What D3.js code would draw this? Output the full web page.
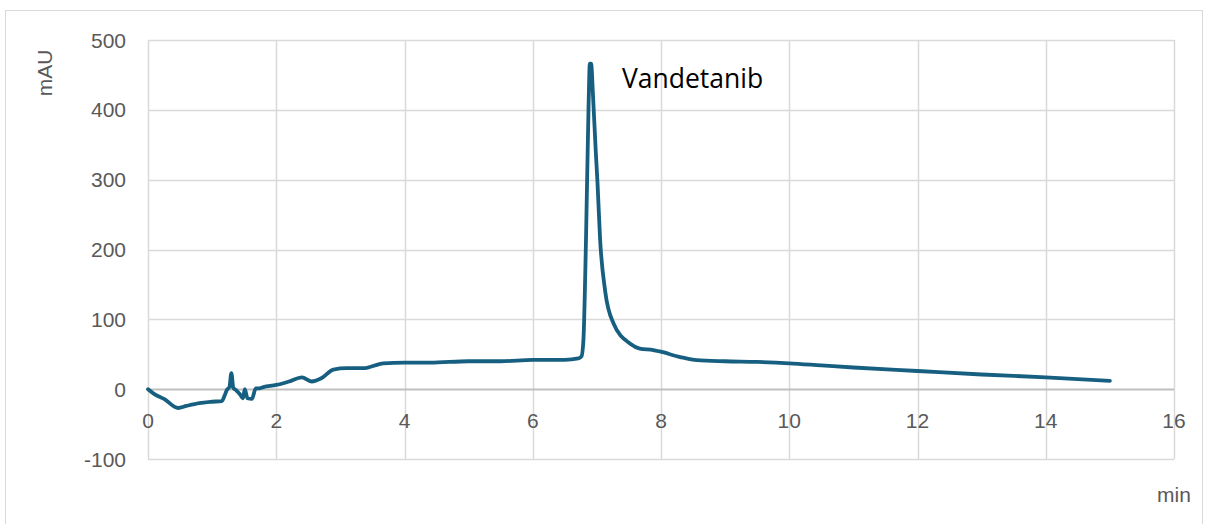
<!DOCTYPE html>
<html>
<head>
<meta charset="utf-8">
<script src="https://cdn.jsdelivr.net/npm/d3@7"></script>
<style>
  body { margin: 0; background: #fff; }
  svg { font-family: "Liberation Sans", Arial, sans-serif; }
</style>
</head>
<body>
<script>
// chromatogram readings (min, mAU)
var times = [0, 0.1, 0.25, 0.47, 0.6, 0.8, 1.0, 1.15, 1.2, 1.23, 1.27, 1.30, 1.33, 1.38, 1.44, 1.48, 1.51, 1.55, 1.62, 1.68, 1.72, 1.8, 2.0, 2.2, 2.4, 2.55, 2.71, 2.89, 3.1, 3.36, 3.67, 4.0, 4.4, 5.0, 5.5, 6.0, 6.5, 6.71, 6.76, 6.79, 6.83, 6.87, 6.89, 6.91, 6.94, 6.98, 7.01, 7.05, 7.13, 7.26, 7.52, 7.67, 7.88, 7.98, 8.3, 8.56, 9.0, 9.5, 10.0, 10.5, 11.0, 12.0, 13.0, 14.0, 15.0];
var signal = [0, -7, -14, -27, -24, -20, -18, -17, -8, -1, 3, 23, 2, -2, -8, -13, 0, -13, -14, 1, 1, 3, 6, 11, 17, 11, 16, 28, 30, 30, 37, 38, 38, 40, 40, 42, 42, 44, 47, 70, 213, 404, 466, 466, 420, 345, 295, 215, 140, 94, 65, 58, 56, 54, 46, 41.5, 40, 39, 37, 34, 31, 26, 21, 17, 12];
var xTicks = [0, 2, 4, 6, 8, 10, 12, 14, 16];
var yTicks = [-100, 0, 100, 200, 300, 400, 500];

var w = 1208, h = 524;
var svg = d3.select("body").append("svg")
    .attr("width", w)
    .attr("height", h);

// chart frame
svg.append("rect")
    .attr("x", 5.5).attr("y", 10.5)
    .attr("width", 1197).attr("height", 520)
    .attr("fill", "#fff")
    .attr("stroke", "#d9d9d9");

var x = d3.scaleLinear().domain([0, 16]).range([148, 1174]);
var y = d3.scaleLinear().domain([-100, 500]).range([459, 40]);

// gridlines
svg.selectAll(".vgrid").data(xTicks).enter().append("line")
    .attr("class", "vgrid")
    .attr("x1", d => Math.round(x(d)) + 0.5).attr("x2", d => Math.round(x(d)) + 0.5)
    .attr("y1", y(500)).attr("y2", y(-100))
    .attr("stroke", "#d9d9d9").attr("stroke-width", 1.5);

svg.selectAll(".hgrid").data(yTicks).enter().append("line")
    .attr("class", "hgrid")
    .attr("x1", x(0)).attr("x2", x(16))
    .attr("y1", d => Math.round(y(d)) + 0.5).attr("y2", d => Math.round(y(d)) + 0.5)
    .attr("stroke", d => d === 0 ? "#bfbfbf" : "#d9d9d9")
    .attr("stroke-width", d => d === 0 ? 2 : 1.5);

// tick labels
svg.selectAll(".ylab").data(yTicks).enter().append("text")
    .attr("class", "ylab")
    .attr("x", 126).attr("y", d => y(d))
    .attr("dy", "0.36em")
    .attr("text-anchor", "end")
    .attr("font-size", 21)
    .attr("fill", "#595959")
    .text(d => d);

svg.selectAll(".xlab").data(xTicks).enter().append("text")
    .attr("class", "xlab")
    .attr("x", d => x(d)).attr("y", 428)
    .attr("text-anchor", "middle")
    .attr("font-size", 21)
    .attr("fill", "#595959")
    .text(d => d);

// axis titles
svg.append("text")
    .attr("transform", "translate(52,73) rotate(-90)")
    .attr("text-anchor", "middle")
    .attr("font-size", 21)
    .attr("fill", "#595959")
    .text("mAU");

svg.append("text")
    .attr("x", 1174).attr("y", 502)
    .attr("text-anchor", "middle")
    .attr("font-size", 21)
    .attr("fill", "#595959")
    .text("min");

// trace
var pts = times.map((t, i) => [t, signal[i]]);
var line = d3.line()
    .x(d => x(d[0]))
    .y(d => y(d[1]))
    .curve(d3.curveMonotoneX);

svg.append("path")
    .datum(pts)
    .attr("d", line)
    .attr("fill", "none")
    .attr("stroke", "#175f80")
    .attr("stroke-width", 3.8)
    .attr("stroke-linejoin", "round")
    .attr("stroke-linecap", "round");

// peak label
svg.append("text")
    .attr("x", 622).attr("y", 88)
    .attr("font-family", "'Open Sans', sans-serif")
    .attr("font-size", 26.5)
    .attr("fill", "#000")
    .text("Vandetanib");
</script>
</body>
</html>
